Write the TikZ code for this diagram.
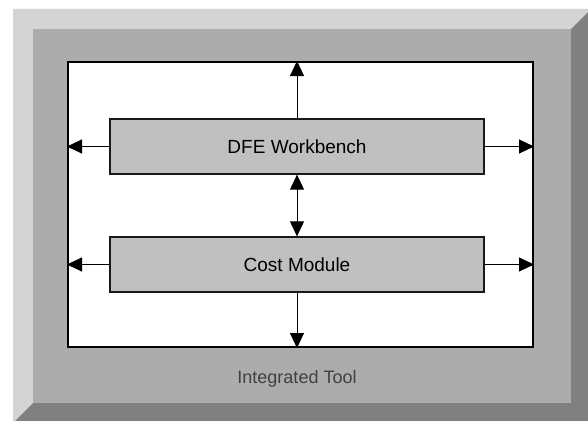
\documentclass[tikz,border=0pt]{standalone}
\usepackage{fontspec}
\setmainfont{Liberation Sans}
\usetikzlibrary{arrows.meta}

\definecolor{bevellight}{HTML}{D4D4D4}
\definecolor{bevelface}{HTML}{ACACAC}
\definecolor{beveldark}{HTML}{808080}
\definecolor{modulefill}{HTML}{C0C0C0}
\definecolor{captiongray}{HTML}{404040}

\tikzset{
  module/.style={draw=black!90, line width=1.3pt, fill=modulefill,
    minimum width=374pt, minimum height=55pt, inner sep=0pt,
    font=\fontsize{19}{23}\selectfont},
  flow/.style={line width=1pt, -{Triangle[length=15pt,width=14pt]}},
  bothflow/.style={line width=1pt, {Triangle[length=15pt,width=14pt]}-{Triangle[length=15pt,width=14pt]}},
}

\begin{document}
\begin{tikzpicture}[x=1pt,y=-1pt]
  \useasboundingbox (0,0) rectangle (588,420);
  \fill[white] (0,0) rectangle (588,420);

  % raised frame: light upper-left bevel, dark lower-right bevel, flat face
  \fill[bevellight] (13,9) -- (591,9) -- (571,29) -- (33,29) -- (33,403) -- (13,423) -- cycle;
  \fill[beveldark] (591,9) -- (591,423) -- (13,423) -- (33,403) -- (571,403) -- (571,29) -- cycle;
  \fill[bevelface] (33,29) rectangle (571,403);

  % white working area
  \node[draw=black, line width=2pt, fill=white, inner sep=0pt,
        minimum width=465pt, minimum height=285pt] (area) at (300.5,204.5) {};

  % modules
  \node[module] (dfe) at (297,146.5) {DFE Workbench};
  \node[module] (cost) at (297,264.5) {Cost Module};

  % connectors
  \draw[flow] (dfe.north) -- (dfe.north |- area.north);
  \draw[flow] (dfe.west) -- (dfe.west -| area.west);
  \draw[flow] (dfe.east) -- (dfe.east -| area.east);
  \draw[bothflow] (dfe.south) -- (cost.north);
  \draw[flow] (cost.west) -- (cost.west -| area.west);
  \draw[flow] (cost.east) -- (cost.east -| area.east);
  \draw[flow] (cost.south) -- (cost.south |- area.south);

  % caption
  \node[text=captiongray, font=\fontsize{18}{22}\selectfont] (caption) at (297,379) {Integrated Tool};
\end{tikzpicture}
\end{document}
